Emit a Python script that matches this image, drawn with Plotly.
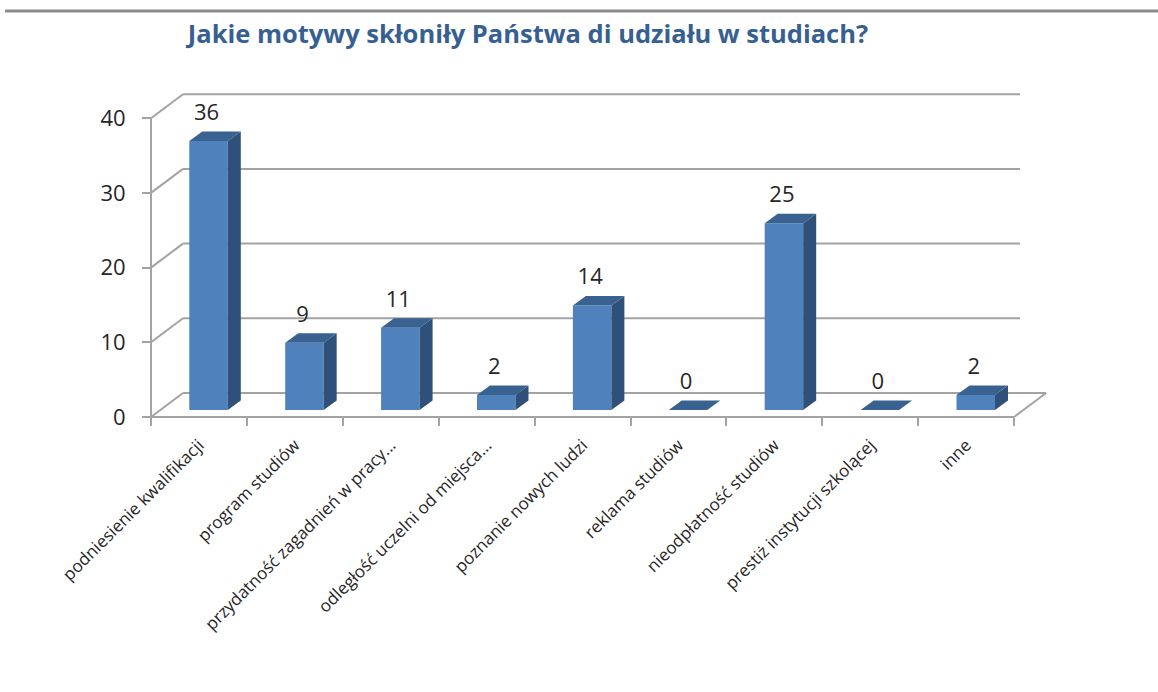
import plotly.graph_objects as go

categories = ["podniesienie kwalifikacji", "program studiów", "przydatność zagadnień w pracy...",
              "odległość uczelni od miejsca...", "poznanie nowych ludzi", "reklama studiów",
              "nieodpłatność studiów", "prestiż instytucji szkolącej", "inne"]
values = [36, 9, 11, 2, 14, 0, 25, 0, 2]
y_ticks = [0, 10, 20, 30, 40]
title = "Jakie motywy skłoniły Państwa di udziału w studiach?"

W, H = 1158, 692
X0, Y0, CAT_PX, VAL_PX = 151, 417, 95.9, 7.47     # axis origin and scale
x_range = [-X0 / CAT_PX, (W - X0) / CAT_PX]
y_range = [(Y0 - H) / VAL_PX, Y0 / VAL_PX]
WALL_DX, WALL_DY = 32 / CAT_PX, 24 / VAL_PX       # depth of the floor
BAR_DX, BAR_DY = 13 / CAT_PX, 9.5 / VAL_PX        # depth of a bar
BAR_W, BAR_SHIFT, BAR_BASE = 38.5 / CAT_PX, 0.1, 7 / VAL_PX
GREY = "#a3a3a3"
FONT = "Open Sans"

n = len(categories)
centers = [i + 0.5 for i in range(n)]
bar_x = [c + BAR_SHIFT for c in centers]
WALL_END = 869 / CAT_PX   # back-wall grid lines stop before the floor ends


def seg(x0, y0, x1, y1):
    return dict(type="line", xref="x", yref="y", x0=x0, y0=y0, x1=x1, y1=y1, layer="below",
                line=dict(color=GREY, width=2))


shapes = [dict(type="line", xref="paper", yref="paper", x0=5 / W, x1=1, y0=1 - 11 / H, y1=1 - 11 / H,
               line=dict(color="#8c8c8c", width=3))]
for t in y_ticks:
    shapes.append(seg(0, t, WALL_DX, t + WALL_DY))
    shapes.append(seg(WALL_DX, t + WALL_DY, n + WALL_DX if t == 0 else WALL_END, t + WALL_DY))
shapes.append(seg(0, 0, 0, max(y_ticks)))
shapes.append(seg(0, 0, n, 0))
shapes.append(seg(n, 0, n + WALL_DX, WALL_DY))

side_x, side_y, top_x, top_y = [], [], [], []
for x, v in zip(bar_x, values):
    l, r = x - BAR_W / 2, x + BAR_W / 2
    t = BAR_BASE + v
    if v > 0:
        side_x += [r, r, r + BAR_DX, r + BAR_DX, r, None]
        side_y += [BAR_BASE, t, t + BAR_DY, BAR_BASE + BAR_DY, BAR_BASE, None]
    top_x += [l, r, r + BAR_DX, l + BAR_DX, l, None]
    top_y += [t, t, t + BAR_DY, t + BAR_DY, t, None]

fig = go.Figure()
fig.add_bar(x=bar_x, y=values, base=BAR_BASE, width=BAR_W, marker=dict(color="#4f81bd", line=dict(width=0)))
fig.add_scatter(x=side_x, y=side_y, mode="lines", fill="toself", fillcolor="#2f5179", line=dict(width=0))
fig.add_scatter(x=top_x, y=top_y, mode="lines", fill="toself", fillcolor="#3a6291", line=dict(width=0))
fig.add_scatter(x=[x - 2 / CAT_PX for x in bar_x], y=[v + BAR_BASE + BAR_DY + 17 / VAL_PX for v in values],
                mode="text", text=[str(v) for v in values], textposition="middle center",
                textfont=dict(family=FONT, size=22, color="#262626"))

fig.update_layout(
    width=W, height=H, margin=dict(l=0, r=0, t=0, b=0), showlegend=False,
    paper_bgcolor="white", plot_bgcolor="white", shapes=shapes,
    title=dict(text=title, x=528 / W, xanchor="center", xref="paper", y=1 - 34 / H, yanchor="middle", yref="paper",
               font=dict(family=FONT, size=25.5, color="#376092", weight="bold")),
    xaxis=dict(range=x_range, showgrid=False, zeroline=False, showline=False, anchor="free",
               position=1 - Y0 / H, tickmode="array", tickvals=centers, ticktext=categories, tickangle=-45,
               ticks="", ticklabelstandoff=14, tickfont=dict(family=FONT, size=17, color="#262626"),
               minor=dict(tickmode="array", tickvals=list(range(n + 1)), ticks="outside", ticklen=8,
                          tickwidth=2, tickcolor=GREY)),
    yaxis=dict(range=y_range, showgrid=False, zeroline=False, showline=False, anchor="free",
               position=X0 / W, tickmode="array", tickvals=y_ticks, ticks="outside", ticklen=9, tickwidth=2,
               tickcolor=GREY, ticklabelstandoff=12, tickfont=dict(family=FONT, size=22, color="#262626")),
)
fig.write_html("out.html", post_script="document.body.style.margin='0';", config=dict(displayModeBar=False))
